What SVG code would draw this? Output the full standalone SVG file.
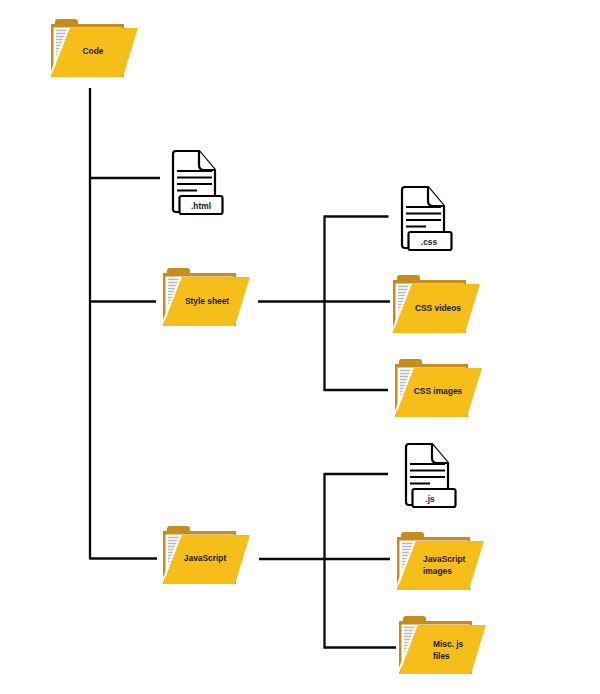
<svg xmlns="http://www.w3.org/2000/svg" width="600" height="694" viewBox="0 0 600 694">
<style>
.conn{stroke:#0a0a0a;stroke-width:2.3;fill:none}
.t{font-family:"Liberation Sans",Arial,sans-serif;font-size:8.4px;font-weight:bold;fill:#1a1a1a;text-anchor:middle}
.l{font-family:"Liberation Sans",Arial,sans-serif;font-size:8.4px;font-weight:bold;fill:#1a1a1a;text-anchor:start}
.d{fill:#fff;stroke:#000;stroke-width:2.2;stroke-linejoin:round}
.dl{stroke:#000;stroke-width:1.9;fill:none}
</style>
<defs>
<g id="folder">
<path d="M4 3 Q4 0 7 0 L24 0 Q27 0 27 3 L27 6 L4 6Z" fill="#c68c1c"/>
<rect x="0" y="5" width="73" height="53" fill="#c68c1c"/>
<rect x="2.500" y="8.500" width="68" height="47" fill="#fff"/>
<path d="M5 11.500H26M5 14.500H26M5 17.500H24M5 20.500H23M5 23.500H22M5 26.500H21M5 29.500H20M5 32.500H18M5 35.500H17M5 38.500H16M5 41.500H15M5 44.500H13" stroke="#b8b8b8" stroke-width="1.500" fill="none"/>
<path d="M17.500 9 L-1 57" stroke="#fff" stroke-width="2" fill="none"/>
<polygon points="19,9 87,9 72,58 0,58" fill="#f5be19"/>
</g>
<g id="doc">
<path class="d" d="M4 0 H27 L43 19 V58 Q43 61 40 61 H4 Q1 61 1 58 V3 Q1 0 4 0Z"/>
<path class="d" d="M27 0 V14 Q27 19 32 19 H43" fill="none"/>
<path class="dl" d="M5 20H40M5 26.500H40M5 33H40M5 39.500H25"/>
<rect class="d" x="7.500" y="45" width="43" height="18" rx="2"/>
</g>
</defs>
<g id="connectors">
<path class="conn" d="M90 88V559.500M90 178H160M90 301.500H156M90 558.500H157"/>
<path class="conn" d="M258 301.500H390M324.500 216.500V391M323.500 216.500H388.500M323.500 390H388"/>
<path class="conn" d="M259 559H390M324.500 474V648.500M323.500 474H388M323.500 647.500H396"/>
</g>
<g id="code"><use href="#folder" x="51" y="19"/><text class="t" x="93" y="54">Code</text></g>
<g id="html"><use href="#doc" x="172" y="151"/><text class="t" x="201" y="209">.html</text></g>
<g id="style-sheet"><use href="#folder" x="163" y="268"/><text class="t" x="207" y="304">Style sheet</text></g>
<g id="css"><use href="#doc" x="401" y="187"/><text class="t" x="429" y="245">.css</text></g>
<g id="css-videos"><use href="#folder" x="393" y="275"/><text class="t" x="438" y="311">CSS videos</text></g>
<g id="css-images"><use href="#folder" x="395" y="359"/><text class="t" x="438" y="394">CSS images</text></g>
<g id="javascript"><use href="#folder" x="163" y="526"/><text class="t" x="205" y="561">JavaScript</text></g>
<g id="js"><use href="#doc" x="405" y="444"/><text class="t" x="430" y="502">.js</text></g>
<g id="js-images"><use href="#folder" x="397" y="532"/><text class="l" x="423" y="562">JavaScript</text><text class="l" x="423" y="574">images</text></g>
<g id="misc-js"><use href="#folder" x="399" y="616"/><text class="l" x="433" y="647">Misc. js</text><text class="l" x="433" y="659">files</text></g>
</svg>
